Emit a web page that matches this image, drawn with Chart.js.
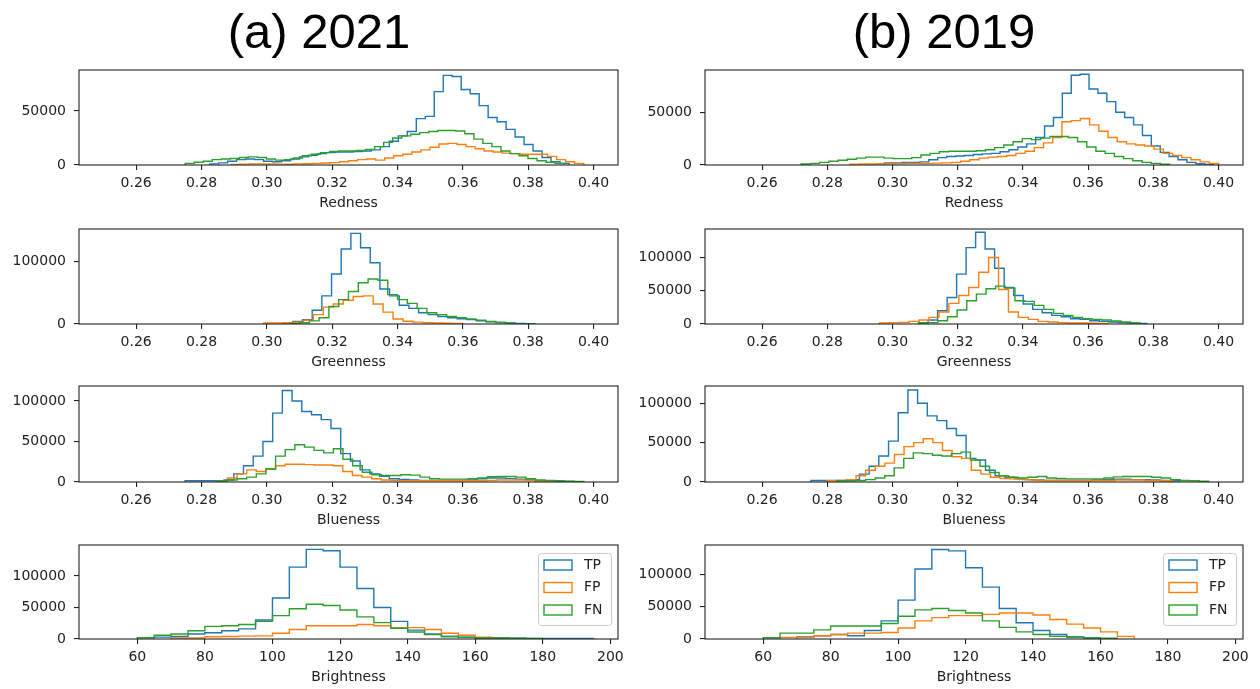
<!DOCTYPE html>
<html>
<head>
<meta charset="utf-8">
<script src="https://cdn.jsdelivr.net/npm/chart.js@4.4.0/dist/chart.umd.min.js"></script>
<style>
  html, body { margin: 0; padding: 0; background: #fff; }
  #page { position: relative; width: 1260px; height: 689px; overflow: hidden; background: #fff; }
  .col-title {
    position: absolute; top: 1px;
    font-family: "Liberation Sans", Arial, sans-serif;
    font-size: 49px; line-height: 60px; color: #000;
    white-space: nowrap; transform: translateX(-50%);
  }
  canvas { position: absolute; }
</style>
</head>
<body>
<div id="page">
  <div class="col-title" style="left:319px">(a) 2021</div>
  <div class="col-title" style="left:944px">(b) 2019</div>
</div>
<script>
// Series and axis ticks
const seriesNames = ['TP', 'FP', 'FN'];
const seriesColors = ['#1f77b4', '#ff7f0e', '#2ca02c'];
const colorTicks = [0.26, 0.28, 0.30, 0.32, 0.34, 0.36, 0.38, 0.40];
const brightTicks = [60, 80, 100, 120, 140, 160, 180, 200];
const yTicksFifty = [0, 50000];
const yTicksHundred = [0, 100000];
const yTicksBoth = [0, 50000, 100000];

// Histogram counts, bins spread evenly over [first edge, last edge] (order TP, FP, FN)
// Redness 2021
const redA_ranges = [[0.2825, 0.3925], [0.289, 0.397], [0.275, 0.391]];
const redA_TP = [1000, 2000, 3500, 5000, 5500, 5000, 3500, 3000, 4000, 5500,
  7500, 9000, 10500, 11500, 12000, 12000, 12500, 13000, 14000, 17000,
  22000, 27000, 31000, 43000, 45000, 68000, 83000, 82000, 70000, 66000,
  55000, 44000, 40000, 33000, 26000, 19000, 13000, 7000, 3000, 1500];
const redA_FP = [500, 800, 1000, 1000, 1000, 800, 700, 1000, 1200, 1500,
  1800, 2200, 3000, 4000, 5000, 5500, 4500, 6500, 8500, 10000,
  12000, 14000, 16500, 19500, 20000, 19000, 17000, 15000, 13000, 12000,
  11000, 10500, 10000, 10000, 10000, 8000, 5000, 3000, 1500];
const redA_FN = [1500, 2500, 3500, 5000, 5500, 6000, 7000, 7500, 7000, 5500,
  4500, 5000, 6500, 8500, 10000, 11500, 12500, 13000, 13000, 13500,
  14500, 17000, 21000, 25000, 27000, 28500, 30000, 31000, 32000, 32000,
  31500, 29000, 24000, 20000, 17000, 13000, 10500, 8500, 6000, 4000,
  2500, 1500];

// Redness 2019
const redB_ranges = [[0.2975, 0.3985], [0.287, 0.400], [0.272, 0.385]];
const redB_TP = [2000, 2000, 2500, 2500, 3000, 5000, 7000, 8000, 8500, 9000,
  10000, 10500, 11000, 12500, 14500, 17000, 20000, 26000, 37000, 45000,
  68000, 85000, 86000, 72000, 68000, 60000, 50000, 45000, 38000, 28000,
  18000, 12000, 8000, 5000, 2500, 1200, 500];
const redB_FP = [800, 1000, 1000, 1200, 1200, 1300, 1500, 1500, 1500, 1800,
  2000, 2500, 3500, 5000, 6500, 7500, 8000, 9000, 11000, 13000,
  16500, 21000, 26000, 41000, 42000, 44000, 38000, 32000, 26000, 22000,
  20000, 19000, 18000, 15000, 11000, 9000, 7000, 5000, 3000, 1500];
const redB_FN = [1000, 1500, 2500, 3500, 4500, 5500, 6500, 7500, 7500, 6500,
  6000, 6000, 7000, 9500, 11000, 12500, 13000, 13000, 13000, 13500,
  14500, 16500, 19000, 22000, 25000, 24000, 25500, 27000, 27000, 26000,
  22000, 17000, 13000, 11000, 8000, 6000, 4000, 2500, 1500, 700];

// Greenness 2021
const greenA_ranges = [[0.305, 0.382], [0.299, 0.360], [0.307, 0.376]];
const greenA_TP = [2000, 4000, 7000, 22000, 45000, 80000, 120000, 145000, 122000, 98000,
  56000, 45000, 30000, 25000, 18000, 15000, 12000, 10000, 8500, 7000,
  5000, 3500, 2500, 1500, 1000, 500];
const greenA_FP = [1500, 1500, 2000, 3000, 6000, 15000, 27000, 32000, 38000, 44000,
  45000, 32000, 19000, 8000, 4500, 3000, 2000, 1500, 1200, 800];
const greenA_FN = [1000, 2000, 5000, 10000, 28000, 39000, 52000, 66000, 72000, 70000,
  47000, 39000, 33000, 25000, 18000, 15000, 12000, 10000, 8000, 6000,
  4000, 2500, 1200];

// Greenness 2019
const greenB_ranges = [[0.308, 0.378], [0.296, 0.366], [0.308, 0.376]];
const greenB_TP = [2000, 6000, 20000, 40000, 75000, 115000, 138000, 113000, 84000, 55000,
  43000, 30000, 22000, 17000, 13000, 11000, 8000, 7000, 5000, 4000,
  3000, 2000, 1500, 800];
const greenB_FP = [1500, 2000, 2500, 4000, 6000, 10000, 18000, 31000, 43000, 55000,
  78000, 100000, 52000, 18000, 10000, 7000, 4000, 3000, 2000, 1500,
  1500, 1200, 1000];
const greenB_FN = [1500, 2000, 5000, 11000, 21000, 35000, 45000, 53000, 57000, 54000,
  35000, 34000, 28000, 22000, 16000, 13000, 10000, 8000, 7000, 6000,
  4500, 3000, 1500];

// Blueness 2021
const blueA_ranges = [[0.275, 0.397], [0.285, 0.388], [0.285, 0.397]];
const blueA_TP = [1500, 1500, 1500, 1500, 2500, 10000, 20000, 32000, 50000, 85000,
  113000, 100000, 87000, 83000, 77000, 66000, 35000, 26000, 15000, 10000,
  7000, 4000, 3000, 2500, 2000, 2000, 2000, 2000, 2000, 2500,
  4000, 5000, 5000, 4500, 3500, 2500, 1500, 1200, 1000, 800,
  500];
const blueA_FP = [1500, 5000, 10000, 15000, 13000, 16000, 20000, 22000, 22000, 21500,
  21000, 21000, 20000, 13000, 8000, 6000, 4000, 2500, 2000, 1500,
  1500, 1500, 1500, 1500, 1500, 1500, 1500, 1500, 2000, 2500,
  2500, 2500, 2000, 1500, 1000];
const blueA_FN = [1500, 2500, 4000, 6000, 10000, 16000, 32000, 40000, 46000, 43000,
  39000, 36000, 41000, 28000, 20000, 12000, 9000, 8000, 8000, 9000,
  8500, 6000, 4000, 3500, 3500, 3500, 4000, 5000, 6500, 7000,
  7000, 6000, 4000, 2500, 2000, 1500, 1000, 800];

// Blueness 2019
const blueB_ranges = [[0.275, 0.388], [0.280, 0.386], [0.283, 0.397]];
const blueB_TP = [2000, 2000, 2000, 2000, 3000, 10000, 20000, 33000, 52000, 88000,
  117000, 100000, 84000, 78000, 68000, 59000, 30000, 28000, 15000, 8000,
  6000, 4000, 3000, 2500, 2000, 2000, 2000, 2000, 2000, 2500,
  3000, 3500, 3500, 3000, 3000, 2500, 2000, 1500];
const blueB_FP = [1500, 2000, 3000, 8000, 15000, 20000, 24000, 35000, 45000, 50000,
  55000, 50000, 40000, 32000, 30000, 15000, 10000, 6000, 4500, 4000,
  3000, 2500, 2000, 2000, 2000, 2000, 2000, 2000, 2000, 2000,
  2500, 2500, 2500, 2000, 2000, 1500];
const blueB_FN = [1500, 1500, 2000, 3000, 5000, 8000, 18000, 30000, 37000, 36000,
  34000, 33000, 36000, 38000, 28000, 20000, 12000, 8000, 6000, 5000,
  6000, 7000, 5000, 4500, 4000, 4000, 4000, 4000, 5000, 6500,
  7000, 7000, 7000, 6000, 5000, 3000, 2000, 1500, 1000];

// Brightness 2021
const brightA_ranges = [[65, 195], [70, 165], [60, 180]];
const brightA_TP = [3000, 4000, 8000, 10000, 13000, 16000, 30000, 65000, 114000, 142000,
  140000, 114000, 80000, 50000, 28000, 14000, 8000, 4000, 3000, 1500,
  1500, 1200, 1000, 1000, 1000, 800];
const brightA_FP = [1500, 1500, 3500, 4000, 4500, 5000, 9000, 15000, 21000, 21000,
  21000, 23000, 21000, 18000, 18000, 15000, 9000, 6000, 3000];
const brightA_FN = [2000, 6000, 8000, 13000, 20000, 21000, 23000, 28000, 37000, 48000,
  55000, 53000, 46000, 35000, 26000, 17000, 11000, 7000, 4000, 2500,
  1500, 1500, 1200, 1000];

// Brightness 2019
const brightB_ranges = [[70, 160], [65, 170], [60, 165]];
const brightB_TP = [3000, 5000, 7000, 5000, 13000, 28000, 60000, 108000, 138000, 136000,
  110000, 80000, 47000, 25000, 13000, 7000, 3000, 1500];
const brightB_FP = [2500, 2500, 5000, 7000, 9000, 9000, 10000, 17000, 28000, 33000,
  36000, 36000, 38000, 40000, 40000, 37000, 30000, 23000, 17000, 11000,
  4000];
const brightB_FN = [2000, 9000, 9000, 14000, 20000, 20000, 20000, 24000, 35000, 45000,
  47000, 44000, 40000, 28000, 18000, 11000, 7000, 4000, 3000, 1500,
  1200];

// Panel table (left column = 2021, right column = 2019)
const rowTops = [70, 229, 386, 545];
const rowHeights = [95, 95, 96, 94];
const panels = [
  {col: 0, row: 0, label: 'Redness', counts: [redA_TP, redA_FP, redA_FN], ranges: redA_ranges, yMax: 88000, yTicks: yTicksFifty},
  {col: 1, row: 0, label: 'Redness', counts: [redB_TP, redB_FP, redB_FN], ranges: redB_ranges, yMax: 90000, yTicks: yTicksFifty},
  {col: 0, row: 1, label: 'Greenness', counts: [greenA_TP, greenA_FP, greenA_FN], ranges: greenA_ranges, yMax: 152000, yTicks: yTicksHundred},
  {col: 1, row: 1, label: 'Greenness', counts: [greenB_TP, greenB_FP, greenB_FN], ranges: greenB_ranges, yMax: 143000, yTicks: yTicksBoth},
  {col: 0, row: 2, label: 'Blueness', counts: [blueA_TP, blueA_FP, blueA_FN], ranges: blueA_ranges, yMax: 118500, yTicks: yTicksBoth},
  {col: 1, row: 2, label: 'Blueness', counts: [blueB_TP, blueB_FP, blueB_FN], ranges: blueB_ranges, yMax: 122000, yTicks: yTicksBoth},
  {col: 0, row: 3, label: 'Brightness', counts: [brightA_TP, brightA_FP, brightA_FN], ranges: brightA_ranges, yMax: 149000, yTicks: yTicksBoth},
  {col: 1, row: 3, label: 'Brightness', counts: [brightB_TP, brightB_FP, brightB_FN], ranges: brightB_ranges, yMax: 145000, yTicks: yTicksBoth}
];

const FONT = {family: '"DejaVu Sans", Verdana, sans-serif', size: 14};
const INK = '#222';

// step outline like a matplotlib 'step' histogram
function stepPoints(counts, range) {
  const w = (range[1] - range[0]) / counts.length;
  const pts = [{x: range[0], y: 0}];
  counts.forEach((c, i) => pts.push({x: range[0] + i * w, y: c}));
  pts.push({x: range[1], y: 0});
  return pts;
}

// box around the plot area (all four spines)
const framePlugin = {
  id: 'frame',
  afterDatasetsDraw(chart) {
    const {ctx, chartArea: a} = chart;
    ctx.save();
    ctx.strokeStyle = INK;
    ctx.lineWidth = 1.1;
    ctx.strokeRect(a.left, a.top, a.right - a.left, a.bottom - a.top);
    ctx.restore();
  }
};

// legend inside the upper right corner, with outlined patches
const boxLegend = {
  id: 'boxLegend',
  afterDraw(chart, args, opts) {
    if (!opts.show) return;
    const {ctx, chartArea: a} = chart;
    const w = 73, h = 72;
    const x0 = a.right - 7 - w, y0 = a.top + 8;
    ctx.save();
    ctx.beginPath();
    ctx.roundRect(x0 + 0.5, y0 + 0.5, w, h, 3);
    ctx.fillStyle = 'rgba(255,255,255,0.8)';
    ctx.fill();
    ctx.strokeStyle = '#cccccc';
    ctx.lineWidth = 1;
    ctx.stroke();
    seriesNames.forEach((name, i) => {
      const cy = y0 + 12 + i * 22.5;
      ctx.strokeStyle = seriesColors[i];
      ctx.lineWidth = 1.4;
      ctx.strokeRect(x0 + 6, cy - 5, 28, 10);
      ctx.fillStyle = INK;
      ctx.font = FONT.size + 'px ' + FONT.family;
      ctx.textBaseline = 'middle';
      ctx.textAlign = 'left';
      ctx.fillText(name, x0 + 46, cy);
    });
    ctx.restore();
  }
};

const page = document.getElementById('page');
const PAD_TOP = 20;
const X_AXIS_H = 47;

panels.forEach(p => {
  const isBright = p.label === 'Brightness';
  const left = p.col === 0 ? 0 : 626;
  const width = p.col === 0 ? 630 : 634;
  const padRight = p.col === 0 ? 12 : 17;
  const height = PAD_TOP + rowHeights[p.row] + X_AXIS_H;

  const canvas = document.createElement('canvas');
  canvas.width = width;
  canvas.height = height;
  canvas.style.left = left + 'px';
  canvas.style.top = (rowTops[p.row] - PAD_TOP) + 'px';
  page.appendChild(canvas);

  const xTicks = isBright ? brightTicks : colorTicks;
  const gridOpts = {
    display: true, drawOnChartArea: false, drawTicks: true,
    tickLength: 5, tickWidth: 1.1, lineWidth: 1.1, tickColor: INK, color: INK
  };

  new Chart(canvas.getContext('2d'), {
    type: 'line',
    data: {
      datasets: seriesNames.map((name, i) => ({
        label: name,
        data: stepPoints(p.counts[i], p.ranges[i]),
        borderColor: seriesColors[i],
        backgroundColor: seriesColors[i],
        borderWidth: 1.4,
        stepped: 'before',
        pointRadius: 0,
        fill: false,
        order: 3 - i
      }))
    },
    options: {
      responsive: false,
      animation: false,
      devicePixelRatio: 1,
      layout: {padding: {left: 0, right: padRight, top: PAD_TOP, bottom: 0}},
      scales: {
        x: {
          type: 'linear',
          min: isBright ? 42.75 : 0.2425,
          max: isBright ? 202.25 : 0.4075,
          afterBuildTicks: s => { s.ticks = xTicks.map(v => ({value: v})); },
          afterFit: s => { s.height = X_AXIS_H; },
          grid: gridOpts,
          border: {display: false},
          ticks: {
            padding: 5, color: INK, font: FONT, autoSkip: false, maxRotation: 0,
            callback: v => isBright ? String(v) : Number(v).toFixed(2)
          },
          title: {display: true, text: p.label, color: INK, font: FONT, padding: 0}
        },
        y: {
          type: 'linear',
          min: 0,
          max: p.yMax,
          afterBuildTicks: s => { s.ticks = p.yTicks.map(v => ({value: v})); },
          afterFit: s => { s.width = 79; },
          grid: gridOpts,
          border: {display: false},
          ticks: {padding: 8, color: INK, font: FONT, autoSkip: false, callback: v => String(v)}
        }
      },
      plugins: {
        legend: {display: false},
        tooltip: {enabled: false},
        boxLegend: {show: isBright}
      }
    },
    plugins: [framePlugin, boxLegend]
  });
});
</script>
</body>
</html>
